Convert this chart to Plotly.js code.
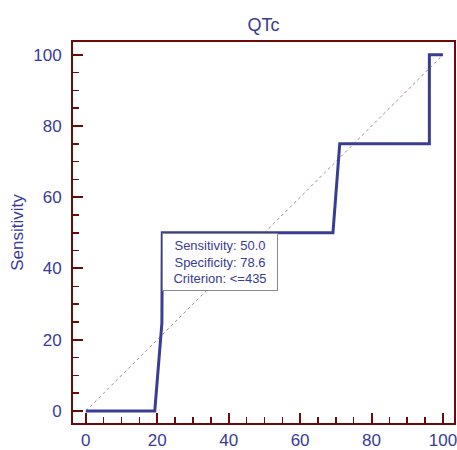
<!DOCTYPE html>
<html><head><meta charset="utf-8">
<script src="https://cdn.plot.ly/plotly-3.0.1.min.js"></script>
<style>html,body{margin:0;padding:0;background:#fff}#c{width:457px;height:450px}</style>
</head><body><div id="c"></div>
<script>
// ROC curve for QTc: 100 - Specificity (x) vs Sensitivity (y)
var rocX = [0, 19.3, 21.3, 21.4, 69.2, 71.1, 96.2, 96.2, 100];
var rocY = [0, 0, 24.7, 50, 50, 75, 75, 100, 100];
var diagX = [0, 100];
var diagY = [0, 100];
var xTicks = [0, 20, 40, 60, 80, 100];
var yTicks = [0, 20, 40, 60, 80, 100];
var cutSens = 50.0, cutSpec = 78.6, cutCrit = "<=435";
var cutX = 21.4, cutY = 50;

var txt = '#3b3a98', frame = '#6a0a0a';
var data = [
  {x: diagX, y: diagY, mode: 'lines', line: {color: '#b08890', width: 1, dash: 'dot'}, hoverinfo: 'skip'},
  {x: rocX, y: rocY, mode: 'lines', line: {color: '#3a3d94', width: 3}}
];
var axisCommon = {
  showgrid: false, zeroline: false, showline: true, mirror: true,
  linecolor: frame, linewidth: 2,
  ticks: 'inside', ticklen: 10, tickwidth: 2, tickcolor: frame,
  tickfont: {family: 'Liberation Sans, Arial', size: 17, color: txt},
  ticklabeloverflow: 'allow',
  minor: {ticks: 'inside', ticklen: 6, tickwidth: 1.5, tickcolor: frame, dtick: 5}
};
var layout = {
  width: 457, height: 450,
  margin: {l: 73, r: 3, t: 42, b: 27},
  paper_bgcolor: '#fff', plot_bgcolor: '#fff',
  showlegend: false,
  font: {family: 'Liberation Sans, Arial', color: txt},
  title: {text: 'QTc', font: {size: 18, color: txt}, xref: 'paper', x: 0.5, xanchor: 'center', yref: 'container', y: 1 - 25/450, yanchor: 'middle'},
  xaxis: Object.assign({}, axisCommon, {range: [-3.6, 103.1], tickvals: xTicks, ticktext: xTicks.map(String), ticklabelstandoff: 1}),
  yaxis: Object.assign({}, axisCommon, {range: [-3.4, 103.6], tickvals: yTicks, ticktext: yTicks.map(String), ticklabelstandoff: 6,
    title: {text: 'Sensitivity', font: {size: 17, color: txt}, standoff: 5}}),
  annotations: [{
    x: cutX, y: cutY, xref: 'x', yref: 'y', xanchor: 'left', yanchor: 'top', showarrow: false,
    text: 'Sensitivity: ' + cutSens.toFixed(1) + '<br>Specificity: ' + cutSpec.toFixed(1) + '<br>Criterion: ' + cutCrit.replace('<', '&lt;'),
    align: 'center', font: {size: 13, color: txt}, bgcolor: '#fff', bordercolor: '#8a8a8a', borderwidth: 1, borderpad: 1,
    width: 112, height: 54
  }]
};
Plotly.newPlot('c', data, layout, {displayModeBar: false, staticPlot: true});
</script></body></html>
